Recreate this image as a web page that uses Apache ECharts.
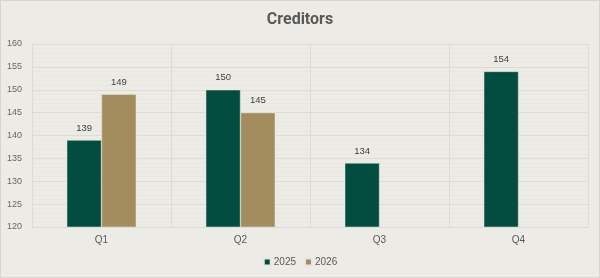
<!DOCTYPE html>
<html>
<head>
<meta charset="utf-8">
<script src="https://cdn.jsdelivr.net/npm/echarts@6/dist/echarts.min.js"></script>
<style>
  html, body { margin: 0; padding: 0; background: #ecebe5; }
  #chart { width: 600px; height: 278px; box-sizing: border-box; border: 1px solid #d6d5d0; }
</style>
</head>
<body>
<div id="chart"></div>
<script>
var categories = ['Q1', 'Q2', 'Q3', 'Q4'];
var values2025 = [139, 150, 134, 154];
var values2026 = [149, 145, null, null];
var yTicks = [120, 125, 130, 135, 140, 145, 150, 155, 160];

var chart = echarts.init(document.getElementById('chart'));
chart.setOption({
  backgroundColor: '#ecebe5',
  animation: false,
  title: {
    text: 'Creditors',
    left: 'center',
    top: 6,
    textStyle: { fontFamily: 'Roboto', fontSize: 16, fontWeight: 'bold', color: '#595959' }
  },
  legend: {
    bottom: 5,
    left: 'center',
    itemWidth: 7,
    itemHeight: 7,
    itemGap: 8,
    icon: 'rect',
    textStyle: { fontFamily: 'Liberation Sans', fontSize: 10, color: '#595959', padding: [0, 0, 0, -2] }
  },
  grid: { left: 31, right: 11, top: 43, bottom: 50 },
  xAxis: {
    type: 'category',
    data: categories,
    axisLine: { lineStyle: { color: '#d9d9d9' } },
    axisTick: { show: false },
    axisLabel: { fontFamily: 'Liberation Sans', fontSize: 10, color: '#595959', margin: 8 },
    splitLine: { show: true, lineStyle: { color: '#dcdbd6' } }
  },
  yAxis: {
    type: 'value',
    min: yTicks[0],
    max: yTicks[yTicks.length - 1],
    interval: 5,
    axisLine: { show: false },
    axisTick: { show: false },
    axisLabel: { fontFamily: 'Liberation Sans', fontSize: 9, color: '#666666', margin: 10 },
    splitLine: { lineStyle: { color: '#dcdbd6' } },
    minorTick: { show: false, splitNumber: 5 },
    minorSplitLine: { show: true, lineStyle: { color: '#e8e7e1' } }
  },
  series: [
    {
      name: '2025',
      type: 'bar',
      data: values2025,
      barWidth: '25%',
      barGap: '0%',
      itemStyle: { color: '#024d3f', borderColor: '#e8e7e1', borderWidth: 0.5 },
      label: { show: true, position: 'top', fontFamily: 'Liberation Sans', fontSize: 9.5, color: '#404040', distance: 7 }
    },
    {
      name: '2026',
      type: 'bar',
      data: values2026,
      barWidth: '25%',
      itemStyle: { color: '#a38c5e', borderColor: '#e8e7e1', borderWidth: 0.5 },
      label: { show: true, position: 'top', fontFamily: 'Liberation Sans', fontSize: 9.5, color: '#404040', distance: 7 }
    }
  ]
});
</script>
</body>
</html>
